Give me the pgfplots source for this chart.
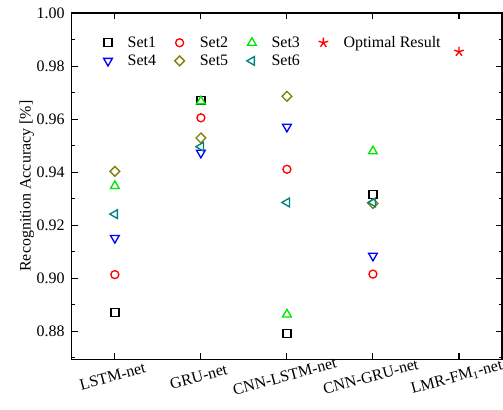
\documentclass[border=0pt]{standalone}
\usepackage{pgfplots}
\pgfplotsset{compat=1.18}
\usepackage{fontspec}
\setmainfont{Liberation Serif}
\definecolor{setgreen}{RGB}{0,230,0}
\definecolor{setolive}{RGB}{128,128,0}
\definecolor{setteal}{RGB}{0,128,128}
\begin{document}
\begin{tikzpicture}
\begin{axis}[
  scale only axis,
  width=323.25pt, height=260.25pt,
  xmin=0.5, xmax=5.5,
  ymin=0.8695, ymax=1.0,
  font=\fontsize{12}{14}\selectfont,
  xtick={1,2,3,4,5},
  xticklabels={LSTM-net, GRU-net, CNN-LSTM-net, CNN-GRU-net, LMR-FM\textsubscript{1}-net},
  x tick label style={rotate=15, anchor=north, xshift=-5pt, yshift=-4.5pt},
  ytick={0.88,0.90,...,1.001},
  minor ytick={0.87,0.89,...,1.0},
  yticklabel style={/pgf/number format/fixed, /pgf/number format/fixed zerofill,
    /pgf/number format/precision=2, /pgf/number format/assume math mode=true,
    xshift=-2pt},
  ylabel={Recognition Accuracy [\%]},
  ylabel shift=-5pt,
  tick align=inside,
  major tick length=4.5pt,
  minor tick length=2.5pt,
  axis line style={line width=0.8pt},
  every tick/.style={black, line width=0.8pt},
  legend columns=4,
  legend style={at={(0.064,0.949)}, anchor=north west, draw=none, fill=none,
    row sep=0pt,
    /tikz/every odd column/.append style={column sep=9.5pt},
    /tikz/every even column/.append style={column sep=12pt}},
  legend cell align=left,
  clip=false,
]
\coordinate (sw) at (rel axis cs:0,0);
\coordinate (ne) at (rel axis cs:1,1);
\addplot[only marks, mark=square, mark size=3pt, line width=1pt, black]
  coordinates {(1,0.8871) (2,0.9670) (3,0.8791) (4,0.9317)};
\addlegendentry{Set1}
\addplot[only marks, mark=o, mark size=3pt, line width=1pt, red]
  coordinates {(1,0.9014) (2,0.9605) (3,0.9411) (4,0.9016)};
\addlegendentry{Set2}
\addplot[only marks, mark=triangle, mark size=3.8pt, line width=1pt, setgreen]
  coordinates {(1,0.9348) (2,0.9667) (3,0.8864) (4,0.9479)};
\addlegendentry{Set3\hspace{-7pt}}
\addplot[only marks, mark=star, mark size=3.8pt, line width=1pt, red, mark options={fill=red}]
  coordinates {(5,0.9854)};
\addlegendentry{Optimal Result}
\addplot[only marks, mark=triangle, mark size=3.8pt, line width=1pt, blue, mark options={rotate=180}]
  coordinates {(1,0.9152) (2,0.9473) (3,0.9571) (4,0.9085)};
\addlegendentry{Set4}
\addplot[only marks, mark=square, mark size=2.6pt, line width=1pt, setolive, mark options={rotate=45}]
  coordinates {(1,0.9403) (2,0.9529) (3,0.9686) (4,0.9282)};
\addlegendentry{Set5}
\addplot[only marks, mark=triangle, mark size=3.8pt, line width=1pt, setteal, mark options={rotate=90}]
  coordinates {(1,0.9242) (2,0.9496) (3,0.9286) (4,0.9286)};
\addlegendentry{Set6\hspace{-7pt}}
\end{axis}
\pgfresetboundingbox
\path[use as bounding box] ([xshift=-54pt,yshift=-37.5pt]sw) rectangle ([xshift=0.75pt,yshift=9.75pt]ne);
\end{tikzpicture}
\end{document}
